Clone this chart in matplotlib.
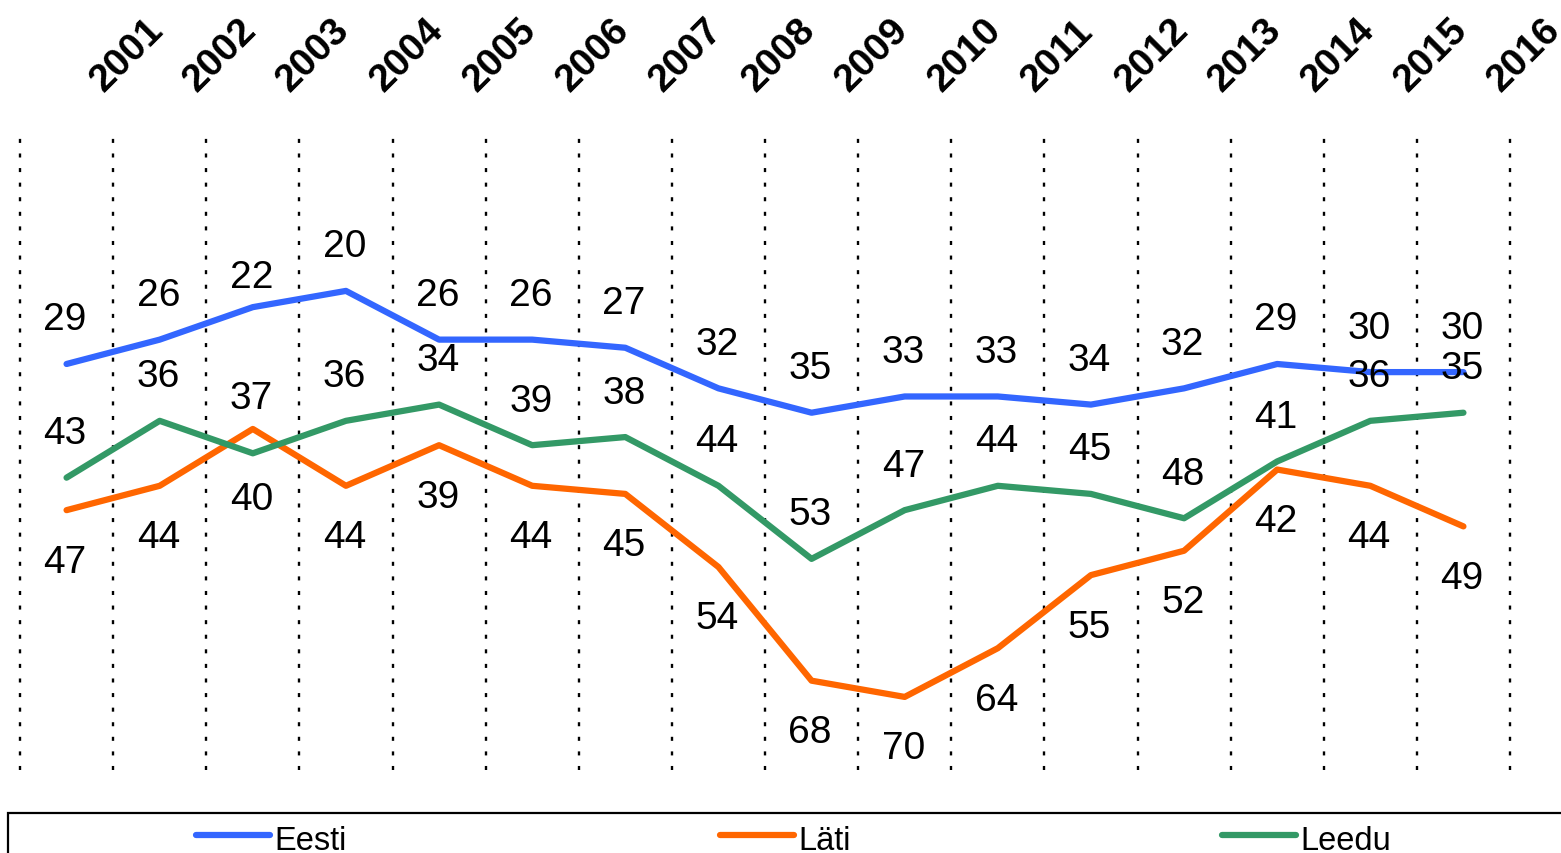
import matplotlib
matplotlib.use('Agg')
import matplotlib.pyplot as plt
import matplotlib.transforms as mtransforms
from matplotlib.patches import Rectangle
from matplotlib.lines import Line2D

years = [str(y) for y in range(2001, 2017)]
eesti = [29, 26, 22, 20, 26, 26, 27, 32, 35, 33, 33, 34, 32, 29, 30, 30]
lati = [47, 44, 37, 44, 39, 44, 45, 54, 68, 70, 64, 55, 52, 42, 44, 49]
leedu = [43, 36, 40, 36, 34, 39, 38, 44, 53, 47, 44, 45, 48, 41, 36, 35]
names = ['Eesti', 'Läti', 'Leedu']

colors = ['#3366ff', '#ff6600', '#339966']
# label side: +1 above the point, -1 below
sides = [
    [1] * 16,
    [-1, -1, 1] + [-1] * 13,
    [1, 1, -1] + [1] * 13,
]

plt.rcParams['font.family'] = ['Liberation Sans', 'DejaVu Sans']
plt.rcParams['lines.scale_dashes'] = False

W, H = 1561, 854
fig = plt.figure(figsize=(W / 100, H / 100), dpi=100)
ax = fig.add_axes([20 / W, 1 - 771 / H, 1490 / W, (771 - 129.5) / H])
ax.set_xlim(-0.5, len(years) - 0.5)
ax.set_ylim(79, 0)
for s in ax.spines.values():
    s.set_visible(False)
ax.set_xticks([])
ax.set_yticks([])

# dotted category separators
for k in range(len(years) + 1):
    ax.axvline(k - 0.5, color='black', lw=1.7, linestyle=(0, (2.9, 7.6)), clip_on=False)

x = list(range(len(years)))
px2pt = 0.72
for vals, col, side in zip([eesti, lati, leedu], colors, sides):
    ax.plot(x, vals, color=col, lw=4.5, solid_capstyle='round', solid_joinstyle='round', zorder=3)
    for i, v in enumerate(vals):
        d = 48 if side[i] > 0 else -48
        if i == 2:
            d = 34 if side[i] > 0 else -42
        ax.annotate(str(v), (i, v), xytext=(-1, (d - 13.5) * px2pt), textcoords='offset points',
                    ha='center', va='baseline', fontsize=28, color='black', zorder=4)

# year labels on top
trans = mtransforms.blended_transform_factory(ax.transData, fig.transFigure)
for i, yr in enumerate(years):
    ax.text(i + 0.40, 1 - 93 / H, yr, transform=trans, rotation=45, rotation_mode='anchor',
            ha='left', va='baseline', fontsize=28, fontweight='bold', clip_on=False)

# legend box (runs off the bottom/right of the image)
fig.patches.append(Rectangle((8 / W, -0.05), 1.1, (854 - 814) / H + 0.05, transform=fig.transFigure,
                             fill=False, ec='black', lw=1.6))
starts = [196, 720, 1222]
for name, col, st in zip(names, colors, starts):
    fig.add_artist(Line2D([st / W, (st + 74) / W], [1 - 836 / H] * 2, color=col, lw=4.5,
                          solid_capstyle='round', transform=fig.transFigure))
    fig.text((st + 78) / W, 1 - 850 / H, name, fontsize=23.5, ha='left', va='baseline')

fig.savefig('out.png', dpi=100)
